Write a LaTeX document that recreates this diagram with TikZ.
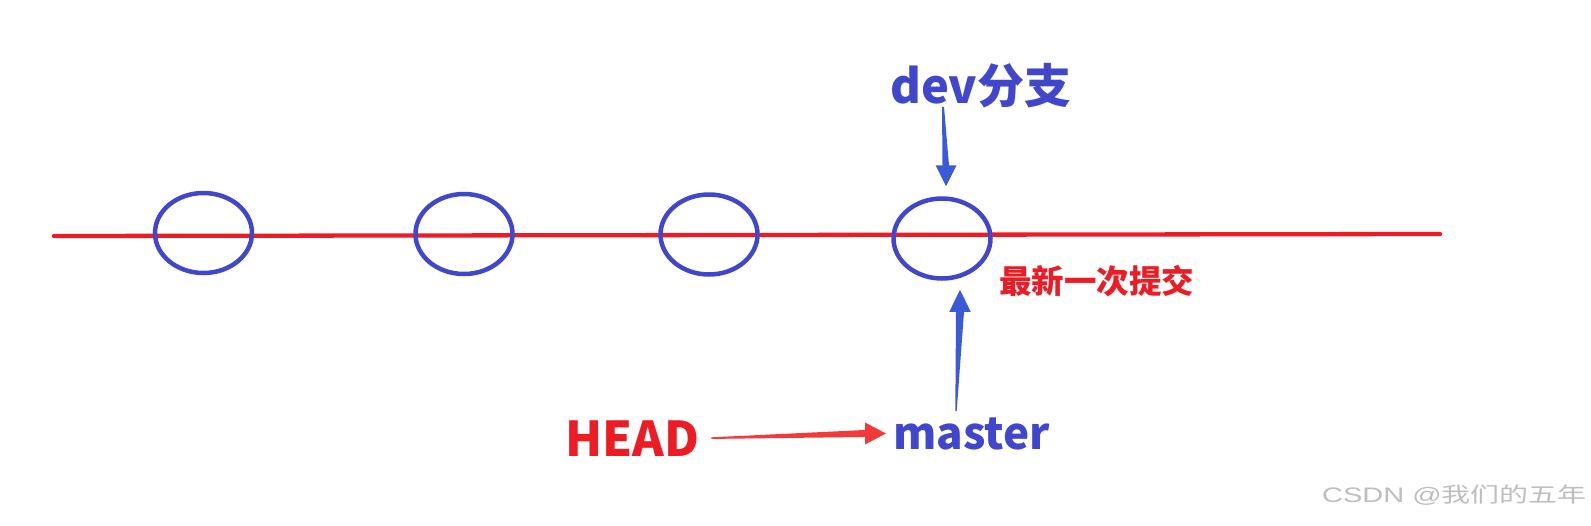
\documentclass[tikz,border=0pt]{standalone}
\usepackage{fontspec}
\newfontfamily\cjk{Noto Sans CJK SC}
\newfontfamily\wlat{Liberation Sans}
\usetikzlibrary{shapes.geometric,calc}
\definecolor{cblue}{HTML}{4047CC}
\definecolor{ablue}{HTML}{3B5BD6}
\definecolor{lred}{HTML}{ED1C24}
\definecolor{ared}{HTML}{F23A3A}
\definecolor{wgray}{HTML}{BEBEBE}
\begin{document}
\begin{tikzpicture}[x=1pt,y=-1pt,
  commit/.style={ellipse,draw=cblue,line width=4.5pt,minimum width=97pt,minimum height=80pt,inner sep=0pt},
  redline/.style={draw=lred,line width=4.3pt,line cap=round},
  bluelabel/.style={text=cblue,font=\cjk\bfseries\fontsize{44}{44}\selectfont,inner sep=0pt,anchor=base west},
  redlabel/.style={text=lred,font=\cjk\bfseries\fontsize{48}{48}\selectfont,inner sep=0pt,anchor=base west},
  notelabel/.style={text=lred,font=\cjk\bfseries\fontsize{32.5}{32.5}\selectfont,inner sep=0pt,anchor=base west},
  wmark/.style={text=wgray,font=\fontsize{21}{21}\selectfont,inner sep=0pt,anchor=base west}]
\useasboundingbox[fill=white] (0,0) rectangle (1591,525);
% main line
\coordinate (l0) at (54,236);
\coordinate (l1) at (1440,234);
\draw[redline] (l0) -- (l1);
% commits
\node[commit] (c1) at (203.5,233) {};
\node[commit] (c2) at (464,234) {};
\node[commit] (c3) at (709,234.5) {};
\node[commit] (c4) at (942,238.5) {};
% labels
\node[bluelabel,font=\cjk\bfseries\fontsize{47}{47}\selectfont] (dev) at (890,103) {dev分支};
\node[notelabel] (note) at (999,293) {最新一次提交};
\node[redlabel] (head) at (565,456) {HEAD};
\node[bluelabel] (master) at (893,449) {master};
\node[wmark] (wm) at (1322,502) {\scalebox{1.38}[1]{\wlat CSDN @\cjk 我们的五年}};
% arrow dev -> c4
\coordinate (dS) at ($(dev.south west)+(53,-1)$);
\coordinate (dT) at ($(c4.north)+(4,-10)$);
\fill[ablue] ($(dS)+(-1,0)$) -- ($(dS)+(1,0)$) -- ($(dT)+(3,-21)$) -- ($(dT)+(10.5,-21)$)
  -- (dT) -- ($(dT)+(-10.5,-21)$) -- ($(dT)+(-3.5,-21)$) -- cycle;
% arrow master -> c4
\coordinate (mS) at ($(master.north west)+(63,-6)$);
\coordinate (mT) at ($(c4.south)+(18,9)$);
\fill[ablue] ($(mS)+(-0.7,0)$) -- ($(mS)+(0.7,0)$) -- ($(mT)+(4,22)$) -- ($(mT)+(10.7,22)$)
  -- (mT) -- ($(mT)+(-10.7,22)$) -- ($(mT)+(-4,22)$) -- cycle;
% arrow HEAD -> master
\coordinate (hS) at ($(head.east)+(12,0)$);
\coordinate (hT) at ($(master.west)+(-7,0)$);
\fill[ared] ($(hS)+(0,-0.8)$) -- ($(hS)+(0,0.8)$) -- ($(hT)+(-21,3.5)$) -- ($(hT)+(-21,11)$)
  -- (hT) -- ($(hT)+(-21,-11)$) -- ($(hT)+(-21,-3.5)$) -- cycle;
\end{tikzpicture}
\end{document}
